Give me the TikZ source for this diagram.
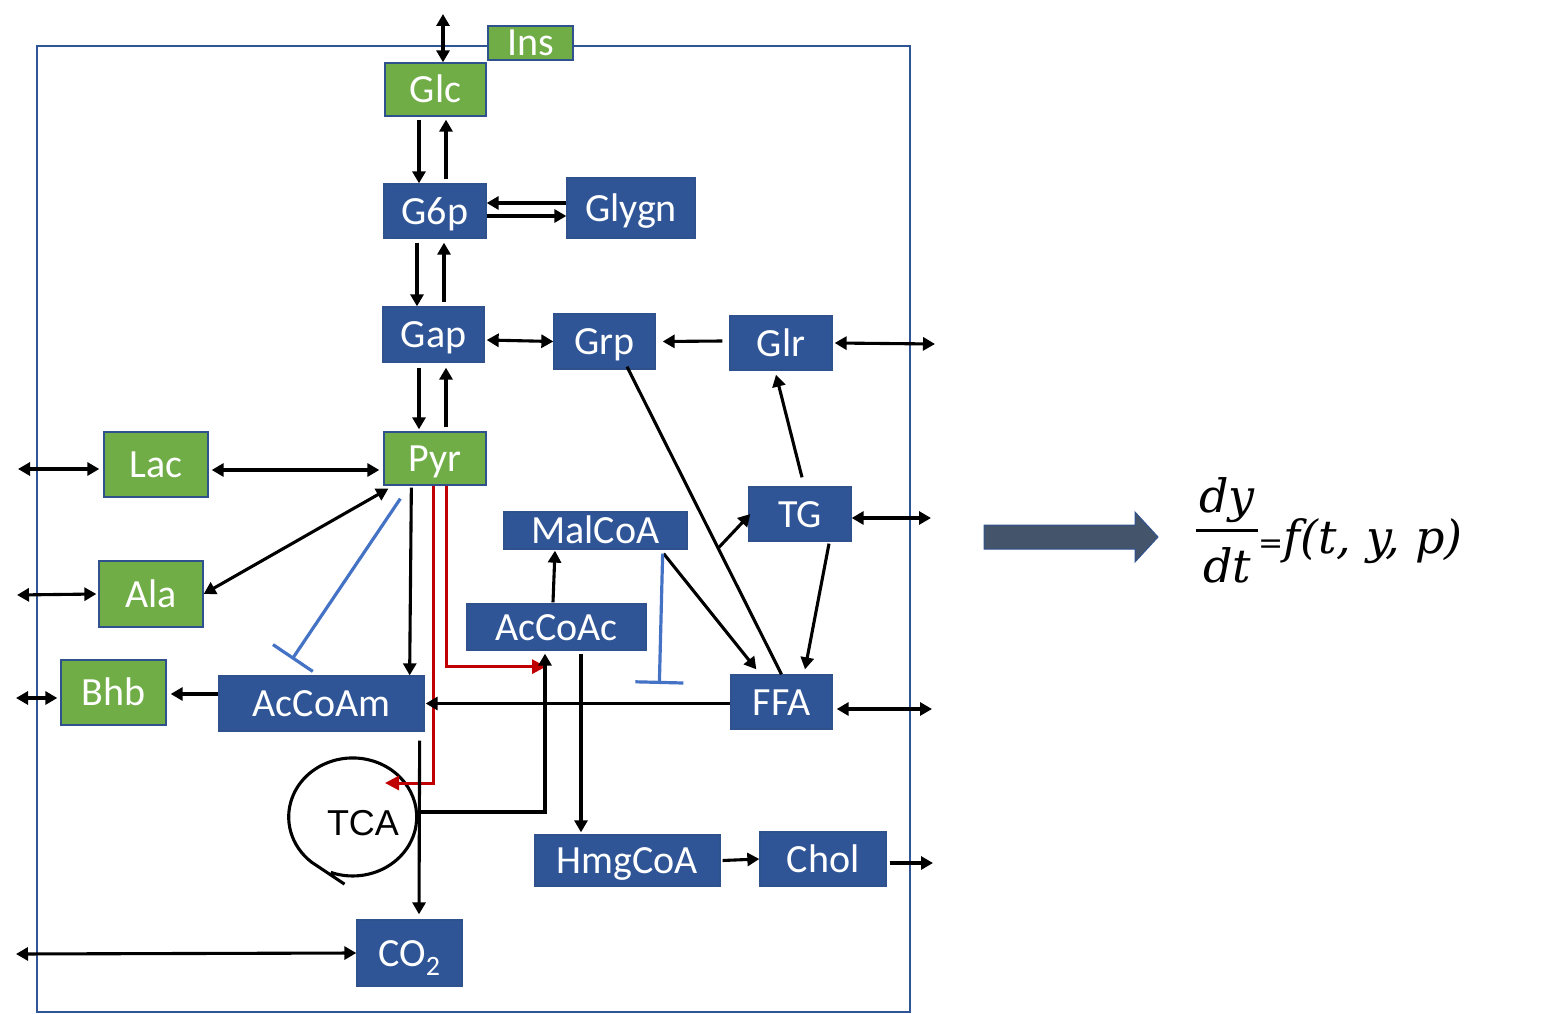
\documentclass[tikz,border=0pt]{standalone}
\usepackage{fontspec}
\setmainfont{Carlito}
\newfontfamily\arialf{Liberation Sans}
\newfontfamily\eqfont{DejaVu Serif}
\usetikzlibrary{arrows.meta,calc}
\definecolor{boxblue}{HTML}{2F5597}
\definecolor{edgeblue}{HTML}{2F528F}
\definecolor{boxgreen}{HTML}{70AD47}
\definecolor{inhblue}{HTML}{4472C4}
\definecolor{redl}{HTML}{C00000}
\definecolor{slate}{HTML}{44546A}
\begin{document}
\begin{tikzpicture}[x=1pt,y=-1pt,
 box/.style={draw=edgeblue,line width=1.3pt,fill=boxblue,text=white,inner sep=0pt,
   font=\fontsize{40}{44}\selectfont,text height=30pt,text depth=4pt},
 gbox/.style={box,fill=boxgreen},
 arr/.style={line width=3.1pt,-{Triangle[length=12pt,width=13pt]}},
 dbl/.style={line width=3.1pt,{Triangle[length=12pt,width=13pt]}-{Triangle[length=12pt,width=13pt]}},
 plain/.style={line width=3.1pt},
 redarr/.style={draw=redl,line width=3pt,-{Triangle[length=14pt,width=14pt]}},
 inh/.style={draw=inhblue,line width=3.2pt,-{Bar[width=48pt,line width=3.2pt]}},
 frame/.style={draw=boxblue,line width=1.4pt},
 eqtxt/.style={inner sep=0pt,font=\eqfont\itshape\fontsize{46}{50}\selectfont},
 ]
\useasboundingbox (0,0) rectangle (1556,1014);
\draw[frame] (37,46) rectangle (910,1012);

% nodes
\node[gbox,minimum width=85pt,minimum height=32pt] (Ins) at (530.5,43) {Ins};
\node[gbox,minimum width=101pt,minimum height=53pt] (Glc) at (435.5,89.5) {Glc};
\node[box,minimum width=102pt,minimum height=54pt] (G6p) at (435,211) {G6p};
\node[box,minimum width=128pt,minimum height=60pt] (Glygn) at (631,208) {Glygn};
\node[box,minimum width=101pt,minimum height=55pt] (Gap) at (433.5,334.5) {Gap};
\node[box,minimum width=101pt,minimum height=55pt] (Grp) at (604.5,341.5) {Grp};
\node[box,minimum width=102pt,minimum height=54pt] (Glr) at (781,343) {Glr};
\node[gbox,minimum width=104pt,minimum height=65pt] (Lac) at (156,464.5) {Lac};
\node[gbox,minimum width=102pt,minimum height=53pt] (Pyr) at (435,458.5) {Pyr};
\node[gbox,minimum width=104pt,minimum height=66pt] (Ala) at (151,594) {Ala};
\node[box,minimum width=183pt,minimum height=37pt] (MalCoA) at (595.5,530.5) {MalCoA};
\node[box,minimum width=102pt,minimum height=54pt] (TG) at (800,514) {TG};
\node[box,minimum width=179pt,minimum height=46pt] (AcCoAc) at (556.5,627) {AcCoAc};
\node[gbox,minimum width=105pt,minimum height=65pt] (Bhb) at (113.5,692.5) {Bhb};
\node[box,minimum width=205pt,minimum height=55pt] (AcCoAm) at (321.5,703.5) {AcCoAm};
\node[box,minimum width=101pt,minimum height=54pt] (FFA) at (781.5,702) {FFA};
\node[box,minimum width=185pt,minimum height=51pt] (HmgCoA) at (627.5,860.5) {HmgCoA};
\node[box,minimum width=126pt,minimum height=54pt] (Chol) at (823,859) {Chol};
\node[box,minimum width=105pt,minimum height=66pt] (CO2) at (409.5,953) {CO\textsubscript{2}};
\node[minimum width=128pt,minimum height=118pt,inner sep=0pt] (TCA) at (351,817) {};
\node[font=\arialf\fontsize{36}{40}\selectfont,inner sep=0pt] (TCAtxt) at (363,823) {TCA};

% TCA cycle
\draw[plain] ([shift={(-20.2pt,-55.4pt)}]TCA.center) arc[start angle=-110,end angle=230,x radius=64pt,y radius=59pt] -- ++(33pt,-22pt);

% outside coordinates
\coordinate (oGlc) at (443,14);
\coordinate (oGlr) at (935,344);
\coordinate (oLac) at (18,469);
\coordinate (oAla) at (17,595);
\coordinate (oBhb) at (16,698);
\coordinate (oCO2) at (16,954);
\coordinate (oTG) at (931,518);
\coordinate (oFFA) at (932,709);
\coordinate (oChol) at (933,863);

% connectors
\draw[dbl] ([xshift=7.5pt]Glc.north) -- (oGlc);
\draw[arr] ([xshift=-16.5pt,yshift=-3pt]Glc.south) -- ([xshift=-16pt]G6p.north);
\draw[arr] ([xshift=11pt,yshift=4pt]G6p.north) -- ([xshift=10.5pt,yshift=-3pt]Glc.south);
\draw[arr] ([yshift=5pt]Glygn.west) -- ([yshift=8pt]G6p.east);
\draw[arr] ([yshift=-5pt]G6p.east) -- ([yshift=-8pt]Glygn.west);
\draw[arr] ([xshift=-18pt,yshift=-4pt]G6p.south) -- ([xshift=-16.5pt]Gap.north);
\draw[arr] ([xshift=10.5pt,yshift=4pt]Gap.north) -- ([xshift=9pt,yshift=-4pt]G6p.south);
\draw[dbl] ([xshift=2pt,yshift=-5.5pt]Gap.east) -- (Grp.west);
\draw[arr] ([xshift=-7pt,yshift=2pt]Glr.west) -- ([xshift=7pt]Grp.east);
\draw[dbl] ([xshift=2pt]Glr.east) -- (oGlr);
\draw[arr] ([xshift=-14.5pt,yshift=-5pt]Gap.south) -- ([xshift=-16pt,yshift=2pt]Pyr.north);
\draw[arr] ([xshift=11pt,yshift=4pt]Pyr.north) -- ([xshift=12.5pt,yshift=-5pt]Gap.south);
\draw[dbl] ([xshift=3pt,yshift=-5.5pt]Lac.east) -- ([xshift=-4pt,yshift=-11.5pt]Pyr.west);
\draw[dbl] (oLac) -- ([xshift=-4pt,yshift=-4.5pt]Lac.west);
\draw[dbl] (oAla) -- ([xshift=-2pt]Ala.west);
\draw[dbl] (oBhb) -- ([xshift=-3pt,yshift=-5.5pt]Bhb.west);
\draw[dbl] (oCO2) -- (CO2.west);
\draw[dbl] ([xshift=5pt,yshift=-3pt]Pyr.south west) -- (Ala.east);
\draw[inh] ([xshift=17pt,yshift=-13pt]Pyr.south west) -- ([xshift=-29.5pt,yshift=16pt]AcCoAm.north);
\draw[arr] ([xshift=28pt,yshift=-2pt]Pyr.south west) -- ([xshift=-15pt]AcCoAm.north east);
\draw[redarr] ([xshift=-2pt]Pyr.south) |- ([xshift=34pt,yshift=34pt]TCA.center);
\draw[redarr] ([xshift=11pt]Pyr.south) |- ([xshift=-10.5pt,yshift=-16pt]AcCoAc.south);
\draw[arr] ([yshift=5pt]TCA.east) -| ([xshift=-11.5pt,yshift=-3pt]AcCoAc.south);
\draw[arr] ([xshift=-5pt,yshift=-9pt]AcCoAm.south east) -- ([xshift=9.5pt,yshift=5pt]CO2.north);
\draw[arr] ([yshift=-1.5pt]FFA.west) -- ([xshift=1pt]AcCoAm.east);
\draw[arr] ([yshift=9.5pt]AcCoAm.west) -- ([xshift=4pt,yshift=-1.5pt]Bhb.east);
\draw[arr] ([xshift=24.5pt,yshift=-3pt]AcCoAc.south) -- ([xshift=-46.5pt,yshift=2pt]HmgCoA.north);
\draw[arr] ([xshift=-3.5pt,yshift=1pt]AcCoAc.north) -- ([xshift=-40.5pt,yshift=-1pt]MalCoA.south);
\draw[arr] ([xshift=2pt]HmgCoA.east) -- (Chol.west);
\draw[arr] ([xshift=3pt,yshift=-4pt]Chol.east) -- (oChol);
\draw[plain] ([xshift=22.5pt,yshift=3pt]Grp.south) -- coordinate[pos=0.59] (gf) (FFA.north);
\draw[arr] (gf) -- ([xshift=2pt]TG.west);
\draw[arr] ([xshift=-24pt,yshift=-4pt]MalCoA.south east) -- ([xshift=26pt,yshift=5pt]FFA.north west);
\draw[inh] ([xshift=-25pt,yshift=-4pt]MalCoA.south east) -- ([xshift=-71pt,yshift=18pt]FFA.west);
\draw[arr] ([xshift=2pt,yshift=9pt]TG.north) -- ([xshift=-5pt,yshift=-4pt]Glr.south);
\draw[arr] ([xshift=29pt,yshift=-2pt]TG.south) -- ([xshift=23.5pt,yshift=5pt]FFA.north);
\draw[dbl] ([yshift=-4pt]TG.east) -- (oTG);
\draw[dbl] ([xshift=4pt,yshift=-7pt]FFA.east) -- (oFFA);

% big arrow and equation
\filldraw[fill=slate,draw=edgeblue,line width=1pt] (984,525) -- (1135,525) -- (1135,512) -- (1158,537) -- (1135,562) -- (1135,549) -- (984,549) -- cycle;
\node[eqtxt,anchor=base] (eqnum) at (1227,512) {dy};
\node[eqtxt,anchor=base] (eqden) at (1227,582) {dt};
\draw[line width=3pt] (1196,530) -- (1258,530);
\node[eqtxt,anchor=base west] (eqrhs) at (1258,553) {{\fontsize{30}{30}\selectfont=}f(t, y, p)};
\end{tikzpicture}
\end{document}
